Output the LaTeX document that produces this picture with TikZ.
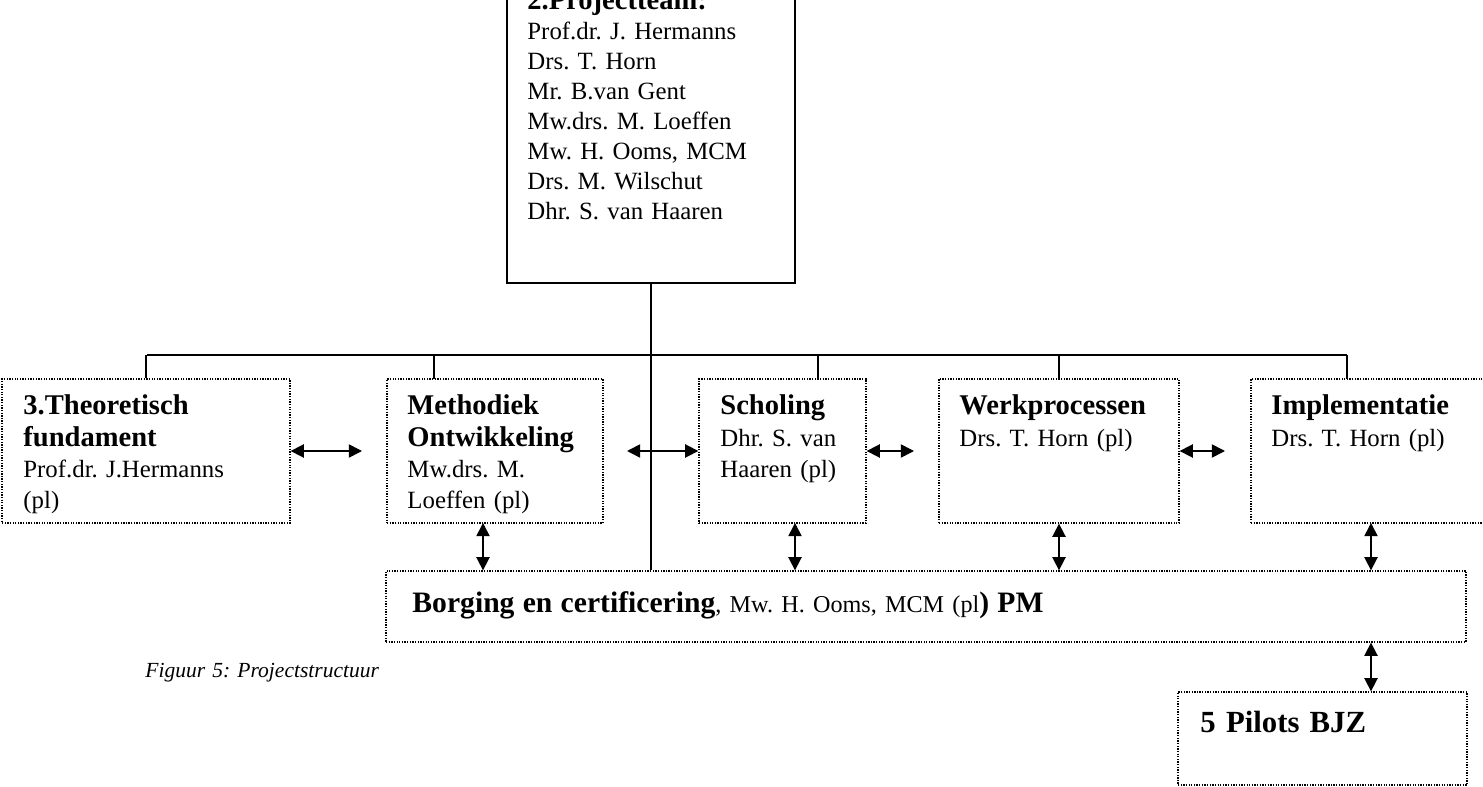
\documentclass[tikz,border=0pt]{standalone}
\usepackage{fontspec}
\setmainfont{Liberation Serif}
\usetikzlibrary{arrows.meta,fit}
\frenchspacing

\begin{document}
\begin{tikzpicture}[x=0.016cm, y=-0.016cm,
  teambox/.style={draw, line width=0.7pt, inner sep=0pt},
  rowbox/.style={draw, line width=0.6pt, dash pattern=on 0.6pt off 0.6pt, inner sep=0pt},
  boxtext/.style={anchor=base west, inner sep=0pt, align=left, text width=7cm, font=\fontsize{11.3}{14.2}\selectfont},
  link/.style={line width=0.65pt},
  dblarrow/.style={line width=0.75pt, {Triangle[length=6pt,width=6pt]}-{Triangle[length=6pt,width=6pt]}}]
\useasboundingbox (0,0) rectangle (1483,787);
\clip (0,0) rectangle (1483,787);
% boxes
\node[teambox, fit={(507,-20) (795,283)}] (team) {};
\node[rowbox, fit={(2,379) (290,523)}] (theo) {};
\node[rowbox, fit={(387,379) (603,523)}] (meth) {};
\node[rowbox, fit={(699,379) (866,523)}] (scho) {};
\node[rowbox, fit={(939,379) (1179,523)}] (werk) {};
\node[rowbox, fit={(1251,379) (1495,523)}] (impl) {};
\node[rowbox, fit={(386,571) (1466,642)}] (borg) {};
\node[rowbox, fit={(1178,692) (1467,785)}] (pilots) {};
% texts
\node[boxtext, font=\fontsize{11.3}{13.6}\selectfont] (teamtxt) at (527,10) {{\bfseries\fontsize{13}{13.6}\selectfont 2.Projectteam:}\\Prof.dr. J. Hermanns\\Drs. T. Horn\\Mr. B.van Gent\\Mw.drs. M. Loeffen\\Mw. H. Ooms, MCM\\Drs. M. Wilschut\\Dhr. S. van Haaren};
\node[boxtext] (theotxt) at (23,415) {{\bfseries\fontsize{13}{14.2}\selectfont 3.Theoretisch\\fundament}\\Prof.dr. J.Hermanns\\(pl)};
\node[boxtext] (methtxt) at (407,415) {{\bfseries\fontsize{13}{14.2}\selectfont Methodiek\\Ontwikkeling}\\Mw.drs. M.\\Loeffen (pl)};
\node[boxtext] (schotxt) at (720,415) {{\bfseries\fontsize{13}{14.2}\selectfont Scholing}\\Dhr. S. van\\Haaren (pl)};
\node[boxtext] (werktxt) at (959,415) {{\bfseries\fontsize{13}{14.2}\selectfont Werkprocessen}\\Drs. T. Horn (pl)};
\node[boxtext] (impltxt) at (1271,415) {{\bfseries\fontsize{13}{14.2}\selectfont Implementatie}\\Drs. T. Horn (pl)};
\node[boxtext, text width=20cm] (borgtxt) at (412,613) {{\bfseries\fontsize{13.5}{15}\selectfont Borging en certificering}{\fontsize{11}{15}\selectfont, Mw. H. Ooms, MCM (pl}{\bfseries\fontsize{13.5}{15}\selectfont) PM}};
\node[boxtext, font=\bfseries\fontsize{14}{16}\selectfont] (pilotstxt) at (1200,732) {5 Pilots BJZ};
\node[boxtext, font=\itshape\fontsize{9.8}{12}\selectfont] (caption) at (145,678) {Figuur 5: Projectstructuur};
% tree lines
\coordinate (barL) at (147,355);
\coordinate (barR) at (1347,355);
\coordinate (dmeth) at (434,379);
\coordinate (dscho) at (818,379);
\coordinate (dimpl) at (1347,379);
\draw[link] (team.south) -- (team.south |- borg.north);
\draw[link] (barL) -- (barR);
\draw[link] (theo.north) -- (theo.north |- barL);
\draw[link] (dmeth) -- (dmeth |- barL);
\draw[link] (dscho) -- (dscho |- barL);
\draw[link] (werk.north) -- (werk.north |- barL);
\draw[link] (dimpl) -- (dimpl |- barL);
% arrows between the work packages
\coordinate (h1) at (362,451);
\coordinate (h2) at (627,451);
\coordinate (h3) at (914,451);
\coordinate (h4) at (1225,451);
\draw[dblarrow] (theo.east) -- (h1);
\draw[dblarrow] (h2) -- (scho.west);
\draw[dblarrow] (scho.east) -- (h3);
\draw[dblarrow] (werk.east) -- (h4);
% arrows to borging
\coordinate (v1) at (483,523);
\coordinate (v2) at (795,523);
\coordinate (v4) at (1371,523);
\draw[dblarrow] (v1) -- (v1 |- borg.north);
\draw[dblarrow] (v2) -- (v2 |- borg.north);
\draw[dblarrow] (werk.south) -- (werk.south |- borg.north);
\draw[dblarrow] (v4) -- (v4 |- borg.north);
\draw[dblarrow] (borg.south -| v4) -- (pilots.north -| v4);
\end{tikzpicture}
\end{document}
